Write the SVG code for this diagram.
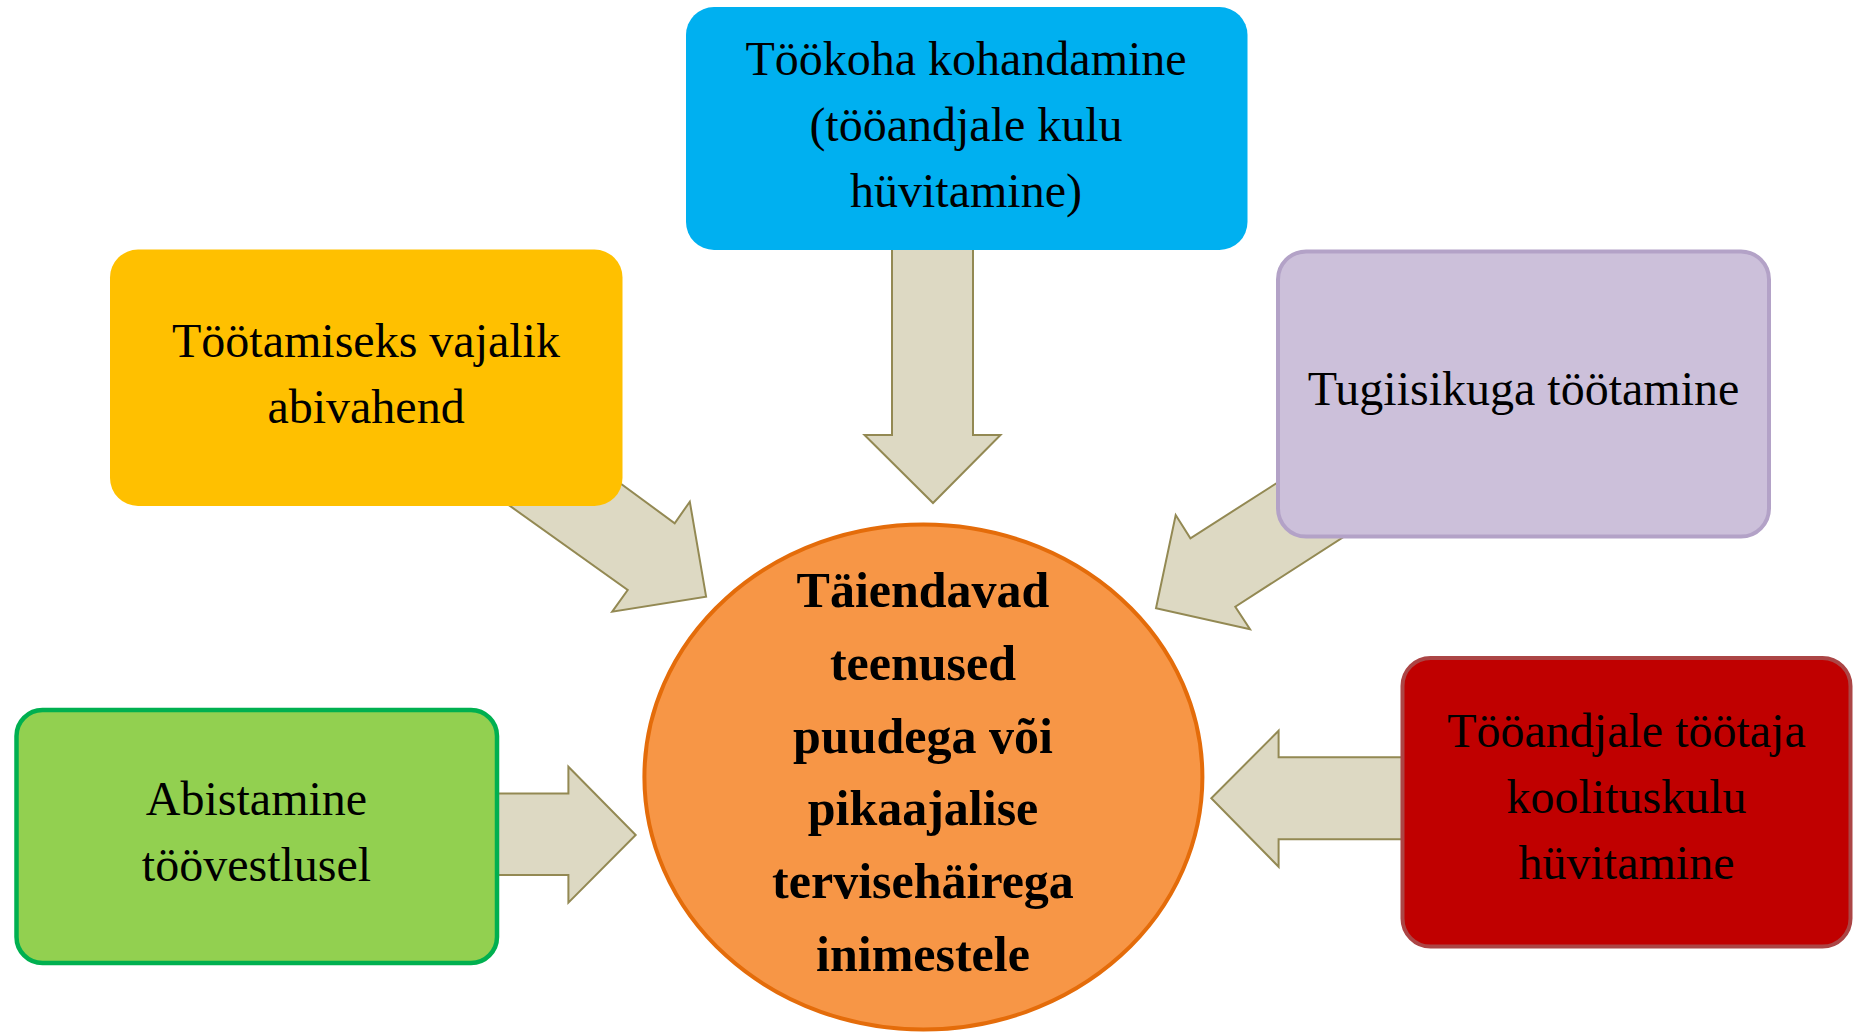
<svg xmlns="http://www.w3.org/2000/svg" width="1858" height="1034" viewBox="0 0 1858 1034">
<style>
.arrow{fill:#DDD9C3;stroke:#938953;stroke-width:2;stroke-linejoin:miter}
.lbl{font-family:"Liberation Serif","Times New Roman",serif;font-size:48px;fill:#000;text-anchor:middle}
.ctr{font-family:"Liberation Serif","Times New Roman",serif;font-size:50px;font-weight:bold;fill:#000;text-anchor:middle}
</style>
<rect width="1858" height="1034" fill="#fff"/>
<g id="connectors">
<polygon class="arrow" points="892,200 973,200 973,435 1000.5,435 933,503 864.5,435 892,435"/>
<polygon class="arrow" points="560,439 674.7,523.3 689.8,501.7 706.1,596.7 612.2,611.7 627.7,590 447,461"/>
<polygon class="arrow" points="1380,417 1190.4,538.3 1175.7,515 1156,608.3 1250,629.3 1235.3,606.7 1450,468.4"/>
<polygon class="arrow" points="450,793.5 568.4,793.5 568.4,766.7 635.7,835 568.4,902.7 568.4,875 450,875"/>
<polygon class="arrow" points="1450,757.3 1278.6,757.3 1278.6,730.7 1211.3,798.3 1278.6,866.7 1278.6,839.3 1450,839.3"/>
</g>
<g id="node-center">
<ellipse cx="923.4" cy="777" rx="279" ry="252.5" fill="#F79646" stroke="#E46C0A" stroke-width="4"/>
<text class="ctr" x="923" y="607">Täiendavad</text>
<text class="ctr" x="923" y="680">teenused</text>
<text class="ctr" x="923" y="753">puudega või</text>
<text class="ctr" x="923" y="825">pikaajalise</text>
<text class="ctr" x="923" y="898">tervisehäirega</text>
<text class="ctr" x="923" y="971">inimestele</text>
</g>
<g id="node-top">
<rect x="686" y="7" width="561.5" height="243" rx="28" fill="#00B0F0"/>
<text class="lbl" x="966" y="75">Töökoha kohandamine</text>
<text class="lbl" x="966" y="141">(tööandjale kulu</text>
<text class="lbl" x="966" y="207">hüvitamine)</text>
</g>
<g id="node-yellow">
<rect x="110" y="249.5" width="512.5" height="256.5" rx="28" fill="#FFC000"/>
<text class="lbl" x="366" y="357">Töötamiseks vajalik</text>
<text class="lbl" x="366" y="423">abivahend</text>
</g>
<g id="node-purple">
<rect x="1278" y="251.5" width="491" height="285" rx="28" fill="#CCC0DA" stroke="#B3A2C7" stroke-width="4"/>
<text class="lbl" x="1523.5" y="405">Tugiisikuga töötamine</text>
</g>
<g id="node-green">
<rect x="16.5" y="710" width="480.5" height="253" rx="26" fill="#92D050" stroke="#00B050" stroke-width="4.5"/>
<text class="lbl" x="256.5" y="815">Abistamine</text>
<text class="lbl" x="256.5" y="881">töövestlusel</text>
</g>
<g id="node-red">
<rect x="1402.5" y="658" width="448" height="288.5" rx="28" fill="#C00000" stroke="#AB4545" stroke-width="4"/>
<text class="lbl" x="1626.5" y="747">Tööandjale töötaja</text>
<text class="lbl" x="1626.5" y="813">koolituskulu</text>
<text class="lbl" x="1626.5" y="879">hüvitamine</text>
</g>
</svg>
